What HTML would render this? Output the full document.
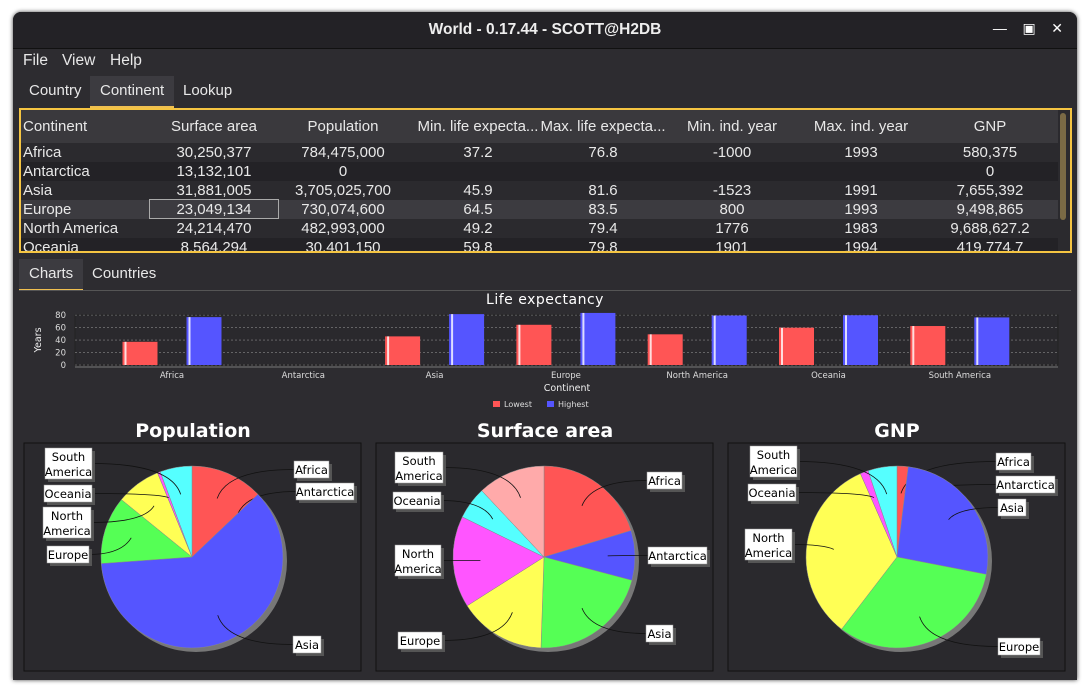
<!DOCTYPE html>
<html><head><meta charset="utf-8"><style>
body{margin:0;width:1090px;height:693px;background:#fff;overflow:hidden;font-family:"Liberation Sans",sans-serif;}
#win{position:absolute;left:13px;top:12px;width:1064px;height:668px;background:#2d2c30;border-radius:8px 8px 0 0;overflow:hidden;color:#e8e8e8;box-shadow:0 0 4px #444;}
.abs{position:absolute;}
#title{left:0;top:0;width:1064px;height:36px;background:#232226;border-bottom:1px solid #111;text-align:center;line-height:36px;font-size:15.5px;font-weight:bold;color:#eee;}
.menu{top:40px;font-size:15.5px;}
.tab{font-size:15px;height:30px;line-height:30px;padding:0 10px;}
.sel{background:#3c3b40;border-bottom:2px solid #f0c050;}
#tbl{left:6px;top:96px;width:1049px;height:141px;border:2px solid #f5c542;overflow:hidden;background:#2b2a2e;}
.row{position:absolute;left:0;width:1037px;height:19px;font-size:15px;line-height:19px;}
.row span{position:absolute;text-align:center;width:130px;white-space:nowrap;}
.row span.l{text-align:left;left:2px;width:150px;}
</style></head><body>
<div id="win">
<div id="title" class="abs">World - 0.17.44 - SCOTT@H2DB</div>
<div class="abs" style="right:14px;top:8px;font-size:14px;color:#fff;">&#8212;&nbsp;&nbsp;&nbsp;&nbsp;&#9635;&nbsp;&nbsp;&nbsp;&nbsp;&#10005;</div>
<div class="abs menu" style="left:10px">File</div>
<div class="abs menu" style="left:49px">View</div>
<div class="abs menu" style="left:97px">Help</div>
<div class="abs tab" style="left:6px;top:64px">Country</div>
<div class="abs tab sel" style="left:77px;top:64px">Continent</div>
<div class="abs tab" style="left:160px;top:64px">Lookup</div>
<div id="tbl" class="abs">
<div class="row" style="top:0px;height:33px;line-height:33px;background:#3a393d">
<span class="l">Continent</span><span style="left:128px">Surface area</span><span style="left:257px">Population</span><span style="left:387px;width:140px">Min. life expecta...</span><span style="left:512px;width:140px">Max. life expecta...</span><span style="left:646px">Min. ind. year</span><span style="left:775px">Max. ind. year</span><span style="left:904px">GNP</span></div>
</div>
<div class="abs" style="left:1047px;top:101px;width:6px;height:107px;background:#7a6a45;border-radius:3px"></div>
<div class="abs tab sel" style="left:6px;top:247px">Charts</div>
<div class="abs tab" style="left:69px;top:247px">Countries</div>
<div class="abs" style="left:6px;top:278px;width:1052px;height:1px;background:#555"></div>
</div>
<svg id="chart" class="abs" style="position:absolute;left:0;top:0" width="1090" height="693" font-family="DejaVu Sans, Liberation Sans, sans-serif"></svg>
<script>
const rows=[["Africa","30,250,377","784,475,000","37.2","76.8","-1000","1993","580,375"],["Antarctica","13,132,101","0","","","","","0"],["Asia","31,881,005","3,705,025,700","45.9","81.6","-1523","1991","7,655,392"],["Europe","23,049,134","730,074,600","64.5","83.5","800","1993","9,498,865"],["North America","24,214,470","482,993,000","49.2","79.4","1776","1983","9,688,627.2"],["Oceania","8,564,294","30,401,150","59.8","79.8","1901","1994","419,774.7"]];
const lefts=[0,128,257,392,517,646,775,904];
const tbl=document.getElementById('tbl');
rows.forEach((r,i)=>{const d=document.createElement('div');d.className='row';d.style.top=(33+i*19)+'px';
d.style.background=i==3?'#3c3b40':(i%2?'#232226':'#2b2a2e');


r.forEach((c,j)=>{const s=document.createElement('span');if(j==0)s.className='l';else s.style.left=lefts[j]+'px';s.textContent=c;
if(i==3&&j==1){s.style.border='1px solid #aaa';s.style.top='-1px';s.style.height='18px';s.style.width='128px';}d.appendChild(s);});
tbl.appendChild(d);});

// ---- bar chart data ----
const cats=["Africa","Antarctica","Asia","Europe","North America","Oceania","South America"];
const lowest=[37.2,null,45.9,64.5,49.2,59.8,62.5];
const highest=[76.8,null,81.6,83.5,79.4,79.8,76.3];
const yTicks=[0,20,40,60,80];
// ---- pie data ----
const popVals=[784475000,0,3705025700,730074600,482993000,30401150,345780000];
const surfVals=[30250377,13132101,31881005,23049134,24214470,8564294,17864926];
const gnpVals=[580375,0,7655392,9498865,9688627.2,419774.7,1511874];
const pieLabels=["Africa","Antarctica","Asia","Europe","North America","Oceania","South America"];

const S=document.getElementById('chart');const NS='http://www.w3.org/2000/svg';
function el(t,a,p){const e=document.createElementNS(NS,t);for(const k in a)e.setAttribute(k,a[k]);(p||S).appendChild(e);return e;}
function tx(x,y,s,a,p){const e=el('text',Object.assign({x,y},a),p);e.textContent=s;return e;}

// bar chart
const X0=75,X1=1058,Y0=365,Y1=315;
const yS=v=>Y0-(v/85)*(Y0-Y1+3);
const step=131.3;
const xC=i=>172+step*i;
let t=tx(545,304,'Life expectancy',{fill:'#fff','font-size':14,'text-anchor':'middle','letter-spacing':'0.5'});


el('rect',{x:X0,y:Y1,width:X1-X0,height:Y0-Y1,fill:'#2a292d',stroke:'#222'});
yTicks.forEach(v=>{el('line',{x1:X0,x2:X1,y1:yS(v),y2:yS(v),stroke:'#888','stroke-dasharray':'2,2','stroke-width':0.6});
tx(X0-9,yS(v)+3,String(v),{fill:'#ddd','font-size':8.5,'text-anchor':'end'});});
el('line',{x1:X0,x2:X1,y1:Y0+2,y2:Y0+2,stroke:'#777'});
t=tx(0,0,'Years',{fill:'#eee','font-size':9.5,'text-anchor':'middle',transform:'translate(41,340) rotate(-90)'});


cats.forEach((c,i)=>{
 tx(xC(i),378,c,{fill:'#ddd','font-size':8.5,'text-anchor':'middle'});
 [[lowest[i],'#ff5555',-32],[highest[i],'#5555ff',32]].forEach(([v,col,off])=>{
  if(v==null)return;const bx=xC(i)+off-17.5,by=yS(v);
  const r=el('rect',{x:bx,y:by,width:35,height:Y0-by,fill:col});
  
  
  el('rect',{x:bx+2,y:by,width:2,height:Y0-by,fill:'#fff',opacity:0.8});
 });
});
t=tx(567,391,'Continent',{fill:'#eee','font-size':9.5,'text-anchor':'middle'});


el('rect',{x:493,y:401,width:7,height:6,fill:'#ff5555'});tx(504,407,'Lowest',{fill:'#ddd','font-size':8});
el('rect',{x:547,y:401,width:7,height:6,fill:'#5555ff'});tx(558,407,'Highest',{fill:'#ddd','font-size':8});

// pies
function pie(title,vals,cx,cy,colors,px,labPos){
 t=tx(px+169,437,title,{fill:'#fff','font-size':19,'font-weight':'bold','text-anchor':'middle'});
 
 
 el('rect',{x:px,y:443,width:337,height:228,fill:'#2a292d',stroke:'#111'});
 const R=91;el('circle',{cx:cx+4,cy:cy+4,r:R,fill:'#777'});
 const tot=vals.reduce((a,b)=>a+b,0);let a=0;
 vals.forEach((v,i)=>{const a0=a;a+=v/tot*2*Math.PI;const mid=(a0+a)/2;
  if(v>0){const p=(ang)=>[cx+R*Math.sin(ang),cy-R*Math.cos(ang)];const [x0,y0]=p(a0),[x1,y1]=p(a);
   const s=el('path',{d:`M${cx},${cy}L${x0},${y0}A${R},${R} 0 ${a-a0>Math.PI?1:0} 1 ${x1},${y1}Z`,fill:colors[i],stroke:'#888','stroke-width':0.5});
   
   }
  const L=labPos[i];const ax=cx+R*0.7*Math.sin(mid),ay=cy-R*0.7*Math.cos(mid);
  const right=L[0]>cx;const ex=right?L[0]:L[0]+L[2],ey=L[1]+L[3]/2;
  el('path',{d:`M${ax},${ay}Q${ax+(right?10:-10)},${ey} ${ex},${ey}`,fill:'none',stroke:'#111','stroke-width':0.8});
  el('rect',{x:L[0]+3,y:L[1]+3,width:L[2],height:L[3],fill:'#555'});
  const b=el('rect',{x:L[0],y:L[1],width:L[2],height:L[3],fill:'#fff',stroke:'#999','stroke-width':0.5});
  
  
  const parts=pieLabels[i].split(' ');
  parts.forEach((w,k)=>tx(L[0]+L[2]/2,L[1]+13+k*15,w,{fill:'#000','font-size':11.5,'text-anchor':'middle'}));
  });
}
pie('Population',popVals,192,557,['#ff5555','#5555ff','#5555ff','#55ff55','#ffff55','#ff55ff','#55ffff'],24,
 [[294,461,35,17],[296,483,58,17],[293,636,28,17],[47,546,42,17],[43,507,48,31],[44,485,48,17],[45,448,47,31]]);
pie('Surface area',surfVals,544,557,['#ff5555','#5555ff','#55ff55','#ffff55','#ff55ff','#55ffff','#ffaaaa'],376,
 [[647,472,35,17],[648,547,59,17],[646,625,27,17],[398,632,44,17],[395,545,46,31],[393,492,48,17],[395,452,48,31]]);
pie('GNP',gnpVals,897,557,['#ff5555','#5555ff','#5555ff','#55ff55','#ffff55','#ff55ff','#55ffff'],728,
 [[996,453,35,17],[996,476,59,17],[998,499,28,17],[998,638,42,17],[745,529,47,31],[748,484,48,17],[750,446,47,31]]);
</script>
</body></html>
